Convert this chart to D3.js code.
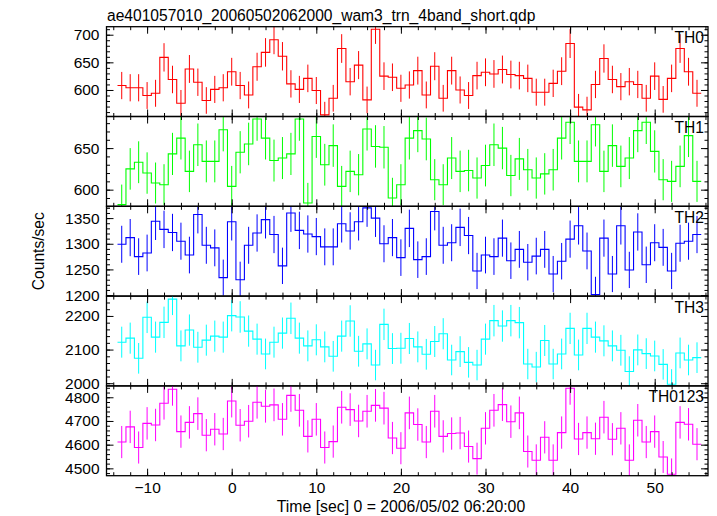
<!DOCTYPE html>
<html>
<head>
<meta charset="utf-8">
<script src="https://cdn.jsdelivr.net/npm/d3@7"></script>
<style>
  html, body { margin: 0; padding: 0; background: #fff; }
  svg { display: block; }
  text { font-family: "Liberation Sans", Arial, Helvetica, sans-serif; fill: #000; }
</style>
</head>
<body>
<svg id="chart" width="717" height="516"></svg>
<script>
// ---- data (count rates per 1-s bin, bin centres -13 .. 55 s) ----
const title = "ae401057010_20060502062000_wam3_trn_4band_short.qdp";
const xLabel = "Time [sec] 0 = 2006/05/02 06:20:00";
const yLabel = "Counts/sec";
const binStart = -13;
const xTicksMajor = [-10, 0, 10, 20, 30, 40, 50];

const bandNames = ["TH0", "TH1", "TH2", "TH3", "TH0123"];
const bandColors = ["#ff0000", "#00ff00", "#0000ff", "#00ffff", "#ff00ff"];

const th0 = [608,604,604,590,594,659,619,576,638,614,581,601,604,633,608,591,642,668,691,661,611,601,621,599,555,585,675,615,645,582,710,625,623,603,609,635,591,643,585,635,600,590,626,632,629,637,628,626,621,596,596,612,634,684,569,564,610,657,619,606,615,610,585,625,583,621,675,633,594];
const th1 = [582,625,633,620,608,606,643,662,622,654,634,634,672,604,645,655,685,662,635,638,643,685,584,664,630,653,604,622,618,673,652,651,590,606,662,671,661,612,606,638,622,623,614,629,654,650,617,637,624,614,619,624,662,681,634,634,678,622,653,628,638,671,681,646,612,610,628,665,610];
const th2 = [1299,1312,1275,1282,1344,1328,1322,1305,1278,1357,1297,1292,1234,1343,1230,1297,1321,1347,1318,1257,1360,1326,1319,1314,1294,1294,1339,1325,1343,1370,1350,1300,1312,1273,1330,1269,1275,1363,1297,1302,1332,1316,1247,1278,1275,1311,1267,1289,1264,1276,1289,1241,1266,1309,1335,1286,1201,1311,1241,1335,1249,1323,1259,1302,1293,1247,1301,1305,1318];
const th3 = [2122,2134,2074,2196,2137,2181,2250,2111,2158,2107,2128,2140,2137,2201,2197,2155,2131,2087,2122,2149,2193,2134,2111,2129,2108,2080,2140,2185,2095,2117,2054,2175,2103,2104,2133,2108,2086,2124,2147,2069,2094,2062,2054,2131,2186,2170,2186,2180,2057,2048,2127,2057,2087,2163,2084,2163,2137,2126,2111,2098,2035,2099,2088,2081,2056,1997,2090,2069,2076];
const th0123 = [4611,4675,4588,4690,4683,4775,4834,4655,4694,4731,4640,4665,4645,4784,4682,4699,4779,4762,4768,4707,4808,4745,4635,4707,4588,4613,4758,4748,4700,4741,4766,4754,4628,4585,4734,4685,4611,4741,4635,4647,4649,4592,4541,4669,4745,4769,4697,4734,4571,4534,4631,4534,4651,4838,4624,4651,4625,4716,4623,4669,4534,4703,4611,4655,4548,4475,4694,4686,4602];

const yDomains = [[552, 714.5], [580, 688], [1198, 1373], [1992, 2259], [4469, 4848]];
const yMajor = [[600, 650, 700], [600, 650], [1200, 1250, 1300, 1350], [2000, 2100, 2200], [4500, 4600, 4700, 4800]];
const yMinorStep = [10, 10, 10, 20, 20];

const series = [th0, th1, th2, th3, th0123];

// ---- layout ----
const svg = d3.select("#chart");
const pLeft = 106.5, pRight = 708, pTop = 26.7, pBottom = 475.7;
const panelH = (pBottom - pTop) / series.length;

const x = d3.scaleLinear().domain([-14.8, 56.3]).range([pLeft, pRight]);
const xMinor = d3.range(-14, 57, 2);

svg.append("text").attr("x", 107).attr("y", 21).attr("font-size", 15.6).text(title);

series.forEach((vals, i) => {
  const y0 = pTop + i * panelH, y1 = y0 + panelH;
  const y = d3.scaleLinear().domain(yDomains[i]).range([y1, y0]);
  const g = svg.append("g");
  const color = bandColors[i];

  const clipId = "clip" + i;
  svg.append("clipPath").attr("id", clipId)
    .append("rect").attr("x", pLeft).attr("y", y0).attr("width", pRight - pLeft).attr("height", panelH);

  const pts = [];
  vals.forEach((v, k) => {
    const t = binStart + k;
    pts.push([t - 0.5, v], [t + 0.5, v]);
  });
  const plot = g.append("g").attr("clip-path", `url(#${clipId})`);

  plot.selectAll("line.err").data(vals).join("line")
    .attr("class", "err")
    .attr("x1", (v, k) => x(binStart + k)).attr("x2", (v, k) => x(binStart + k))
    .attr("y1", v => y(v - Math.sqrt(v))).attr("y2", v => y(v + Math.sqrt(v)))
    .attr("stroke", color).attr("stroke-width", 1);

  plot.append("path")
    .attr("d", d3.line().x(d => x(d[0])).y(d => y(d[1]))(pts))
    .attr("fill", "none").attr("stroke", color).attr("stroke-width", 1.1);

  // axes
  const minorVals = d3.range(Math.ceil(yDomains[i][0] / yMinorStep[i]) * yMinorStep[i], yDomains[i][1], yMinorStep[i]);
  const axG = g.append("g");
  axG.append("g").attr("transform", `translate(${pLeft},0)`)
    .call(d3.axisLeft(y).tickValues(minorVals).tickSize(-3.5).tickFormat(""));
  axG.append("g").attr("transform", `translate(${pLeft},0)`)
    .call(d3.axisLeft(y).tickValues(yMajor[i]).tickSize(-7).tickPadding(7).tickFormat(d3.format("d")));
  axG.append("g").attr("transform", `translate(${pRight},0)`)
    .call(d3.axisRight(y).tickValues(minorVals).tickSize(-3.5).tickFormat(""));
  axG.append("g").attr("transform", `translate(${pRight},0)`)
    .call(d3.axisRight(y).tickValues(yMajor[i]).tickSize(-7).tickFormat(""));

  axG.append("g").attr("transform", `translate(0,${y0})`)
    .call(d3.axisTop(x).tickValues(xMinor).tickSize(-3.5).tickFormat(""));
  axG.append("g").attr("transform", `translate(0,${y0})`)
    .call(d3.axisTop(x).tickValues(xTicksMajor).tickSize(-7).tickFormat(""));
  axG.append("g").attr("transform", `translate(0,${y1})`)
    .call(d3.axisBottom(x).tickValues(xMinor).tickSize(-3.5).tickFormat(""));
  axG.append("g").attr("transform", `translate(0,${y1})`)
    .call(d3.axisBottom(x).tickValues(xTicksMajor).tickSize(-7).tickPadding(6)
      .tickFormat(i === series.length - 1 ? d3.format("d") : ""));

  axG.selectAll(".domain").remove();
  axG.selectAll("line").attr("stroke", "#000").attr("stroke-width", 1);
  axG.selectAll("text").attr("font-size", 15.5).attr("font-family", "Liberation Sans, Arial, sans-serif").attr("fill", "#000");

  g.append("rect").attr("x", pLeft).attr("y", y0).attr("width", pRight - pLeft).attr("height", panelH)
    .attr("fill", "none").attr("stroke", "#000").attr("stroke-width", 1.3);

  g.append("text").attr("x", 704).attr("y", y0 + 16.5).attr("text-anchor", "end")
    .attr("font-size", 15.6).text(bandNames[i]);
});

svg.append("text").attr("transform", `translate(44,${(pTop + pBottom) / 2}) rotate(-90)`)
  .attr("text-anchor", "middle").attr("font-size", 15.6).text(yLabel);
svg.append("text").attr("x", 401).attr("y", 512).attr("text-anchor", "middle")
  .attr("font-size", 15.8).text(xLabel);
</script>
</body>
</html>
